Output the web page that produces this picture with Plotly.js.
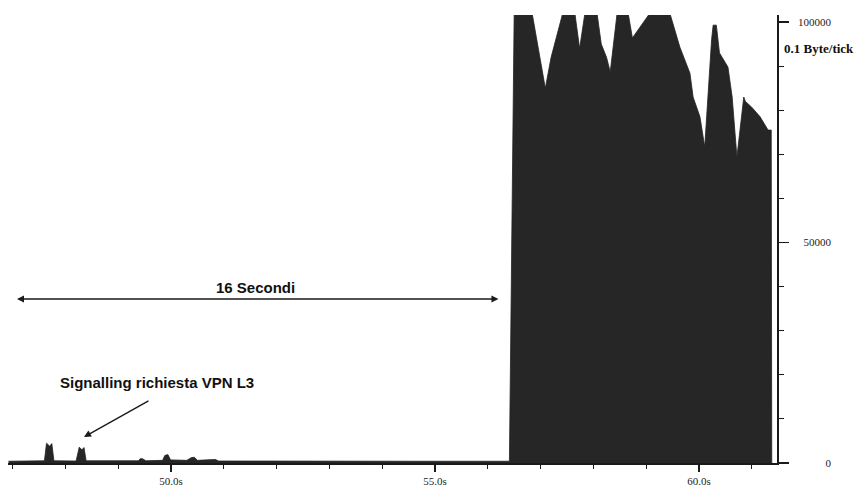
<!DOCTYPE html>
<html><head><meta charset="utf-8">
<script src="https://cdn.plot.ly/plotly-3.0.1.min.js"></script>
<style>html,body{margin:0;padding:0;background:#fff;}#chart{width:861px;height:488px;}</style>
</head><body><div id="chart"></div>
<script>
// time (s) of each sample
const timeSec = [46.92, 47.20, 47.50, 47.60, 47.64, 47.70, 47.74, 47.78, 48.20, 48.26, 48.31, 48.35, 48.39,
  48.90, 49.38, 49.42, 49.47, 49.52, 49.84, 49.88, 49.94, 49.99, 50.30, 50.38, 50.44, 50.50, 50.70, 50.76,
  50.84, 50.90, 51.80, 53.00, 54.50, 55.80, 56.41, 56.50, 56.84, 57.09, 57.20, 57.42, 57.65, 57.74, 57.84,
  58.07, 58.15, 58.25, 58.32, 58.45, 58.66, 58.74, 58.90, 59.07, 59.45, 59.64, 59.83, 59.89, 60.02, 60.11,
  60.24, 60.27, 60.33, 60.39, 60.55, 60.63, 60.72, 60.85, 60.88, 61.00, 61.16, 61.31, 61.37, 61.38];
// traffic (0.1 Byte/tick) at each sample
const bytesPerTick = [400, 450, 400, 500, 4500, 3800, 4400, 500, 450, 3600, 3000, 3500, 500,
  450, 500, 1000, 900, 500, 600, 1700, 1900, 700, 600, 1200, 1300, 600, 700, 900,
  800, 450, 400, 400, 400, 400, 400, 102000, 102000, 85000, 92000, 102000, 102000, 94000, 102000,
  102000, 95000, 92000, 88700, 102000, 102000, 96400, 99000, 102000, 102000, 94300, 88400, 83000, 78500, 71700,
  96000, 99300, 99300, 93000, 89800, 83000, 69400, 83000, 82000, 80700, 78500, 75500, 75500, 0];

const xTickVals = [50, 55, 60];
const xTickText = ['50.0s', '55.0s', '60.0s'];
const yTickVals = [0, 50000, 100000];
const yTickText = ['0', '50000', '100000'];
const unitLabel = '0.1 Byte/tick';
const spanLabel = '16 Secondi';
const signalLabel = 'Signalling richiesta VPN L3';

const ink = '#1a1a1a';
const boldFont = {family: 'Liberation Sans, Arial, sans-serif', size: 15, color: '#111'};

const traces = [
  {x: timeSec, y: bytesPerTick, type: 'scatter', mode: 'lines', fill: 'tozeroy',
   line: {color: '#222', width: 0.8}, fillcolor: '#262626', hoverinfo: 'skip', showlegend: false},
  {x: timeSec, y: bytesPerTick, yaxis: 'y2', type: 'scatter', mode: 'none',
   hoverinfo: 'skip', showlegend: false}
];

const layout = {
  width: 861, height: 488,
  margin: {l: 8, r: 20, t: 15, b: 25},
  paper_bgcolor: '#fff', plot_bgcolor: '#fff',
  showlegend: false,
  font: {color: '#222'},
  xaxis: {
    domain: [0, 0.9232], range: [46.91, 61.48],
    showgrid: false, zeroline: false,
    showline: true, linecolor: ink, linewidth: 1.5,
    ticks: 'outside', ticklen: 7, tickwidth: 1.3, tickcolor: ink,
    tickmode: 'array', tickvals: xTickVals, ticktext: xTickText,
    minor: {tick0: 47, dtick: 1, ticks: 'outside', ticklen: 4, tickwidth: 1, tickcolor: ink},
    tickfont: {family: 'Liberation Serif, serif', size: 11, color: '#222'}
  },
  yaxis: {
    side: 'right', range: [0, 101600],
    showgrid: false, zeroline: false,
    showline: true, linecolor: ink, linewidth: 1.5,
    ticks: 'outside', ticklen: 10, tickwidth: 1.3, tickcolor: ink,
    tickmode: 'array', tickvals: yTickVals, showticklabels: false,
    minor: {tick0: 0, dtick: 10000, ticks: 'outside', ticklen: 5, tickwidth: 1, tickcolor: ink}
  },
  yaxis2: {
    overlaying: 'y', side: 'left', anchor: 'free', position: 0.988,
    range: [0, 101600], showgrid: false, zeroline: false, showline: false, ticks: '',
    tickmode: 'array', tickvals: yTickVals, ticktext: yTickText,
    tickfont: {family: 'Liberation Serif, serif', size: 11, color: '#222'}
  },
  annotations: [
    {xref: 'x', yref: 'y', axref: 'x', ayref: 'y', x: 47.08, y: 37190, ax: 56.23, ay: 37190,
     text: '', showarrow: true, arrowhead: 2, arrowside: 'end+start', arrowsize: 1, arrowwidth: 1.4, arrowcolor: ink},
    {xref: 'x', yref: 'y', x: 51.59, y: 39700, text: '<b>' + spanLabel + '</b>', showarrow: false, font: boldFont},
    {xref: 'x', yref: 'y', x: 49.74, y: 18370, text: '<b>' + signalLabel + '</b>', showarrow: false, font: boldFont},
    {xref: 'x', yref: 'y', axref: 'x', ayref: 'y', x: 48.35, y: 5900, ax: 49.60, ay: 14290,
     text: '', showarrow: true, arrowhead: 2, arrowsize: 1, arrowwidth: 1.4, arrowcolor: ink},
    {xref: 'paper', yref: 'paper', x: 0.929, y: 0.926, xanchor: 'left', yanchor: 'middle',
     text: '<b>' + unitLabel + '</b>', showarrow: false,
     font: {family: 'Liberation Serif, serif', size: 13, color: '#111'}}
  ]
};

Plotly.newPlot('chart', traces, layout, {displayModeBar: false, staticPlot: true});
</script>
</body></html>
